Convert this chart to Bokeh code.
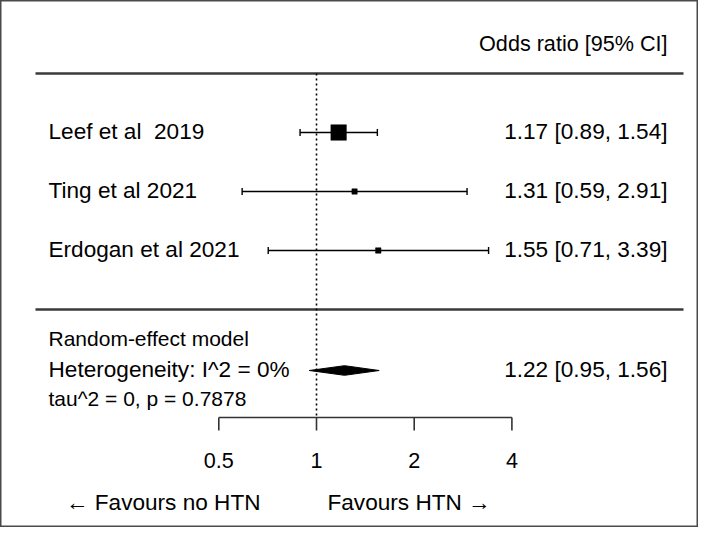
import math
from bokeh.plotting import figure
from bokeh.models import Range1d, LinearScale, ColumnDataSource
from bokeh.core.properties import value
from bokeh.embed import file_html
from bokeh.resources import INLINE

# ---------------- data ----------------
studies = ["Leef et al\u00a0 2019", "Ting et al 2021", "Erdogan et al 2021"]
odds_ratio = [1.17, 1.31, 1.55]
ci_lower = [0.89, 0.59, 0.71]
ci_upper = [1.54, 2.91, 3.39]
weights = [80.6, 9.5, 9.9]          # random-effect weights (%)
ci_text = ["1.17 [0.89, 1.54]", "1.31 [0.59, 2.91]", "1.55 [0.71, 3.39]"]

pooled_or = 1.22
pooled_lower = 0.95
pooled_upper = 1.56
pooled_text = "1.22 [0.95, 1.56]"
model_lines = ["Random-effect model", "Heterogeneity: I^2 = 0%", "tau^2 = 0, p = 0.7878"]

axis_ticks = [0.5, 1, 2, 4]
tick_labels = ["0.5", "1", "2", "4"]
header = "Odds ratio [95% CI]"
label_left = "\u2190 Favours no HTN"
label_right = "Favours HTN \u2192"

# ---------------- layout ----------------
W, H = 698, 527
REF_PX = 316                 # x of OR = 1
PX_PER_LOG2 = 97.7           # pixels per doubling
row_y = [132, 191, 250]      # row centres
TY = -8.3                    # text baseline correction
base_off = 7.5 + TY
sum_y = 370
top_rule, bot_rule = 73, 309
axis_y = 417
FONT = value("Liberation Sans")
BIG, MID, SMALL = "22.6px", "21.6px", "21px"

def or_at(px):
    return 2 ** ((px - REF_PX) / PX_PER_LOG2)

p = figure(width=W, height=H, x_axis_type="log",
           x_range=Range1d(or_at(0), or_at(W)),
           y_range=Range1d(H, 0),
           x_axis_location=None, y_axis_location=None,
           output_backend="svg", toolbar_location=None, min_border=0)
p.grid.visible = False
p.outline_line_color = "#4a4a4a"
p.outline_line_width = 2
p.extra_x_ranges = {"px": Range1d(0, W)}
p.extra_x_scales = {"px": LinearScale()}

def txt(x, y, t, align, size, rng="px"):
    kw = dict(x_range_name=rng) if rng else {}
    p.text(x=x, y=y, text=t, text_align=align, text_baseline="alphabetic",
           text_font=FONT, text_font_size=size, text_color="black", **kw)

# horizontal rules
p.segment(x0=[35, 35], x1=[683, 683], y0=[top_rule, bot_rule], y1=[top_rule, bot_rule],
          x_range_name="px", line_color="#3a3a3a", line_width=2.5)

# reference line at OR = 1
p.segment(x0=[1], x1=[1], y0=[top_rule], y1=[axis_y], line_color="black",
          line_width=1.6, line_dash="2 3")

# confidence intervals
src = ColumnDataSource(dict(
    y=row_y, orr=odds_ratio, lo=ci_lower, hi=ci_upper,
    ytop=[y - 3.5 for y in row_y], ybot=[y + 3.5 for y in row_y],
    size=[15.5 * math.sqrt(w / max(weights)) for w in weights],
))
p.segment(x0="lo", x1="hi", y0="y", y1="y", source=src, line_color="black", line_width=1.4)
p.segment(x0="lo", x1="lo", y0="ytop", y1="ybot", source=src, line_color="black", line_width=1.4)
p.segment(x0="hi", x1="hi", y0="ytop", y1="ybot", source=src, line_color="black", line_width=1.4)
p.scatter(x="orr", y="y", size="size", marker="square", source=src,
          fill_color="black", line_color="black", line_width=0.5)

# pooled diamond
p.patch(x=[pooled_lower, pooled_or, pooled_upper, pooled_or],
        y=[sum_y, sum_y - 4.8, sum_y, sum_y + 4.8],
        fill_color="black", line_color="black", line_width=1)

# x axis drawn with the data scale
p.segment(x0=[axis_ticks[0]], x1=[axis_ticks[-1]], y0=[axis_y], y1=[axis_y],
          line_color="#333333", line_width=1.6)
p.segment(x0=axis_ticks, x1=axis_ticks, y0=[axis_y] * 4, y1=[axis_y + 13] * 4,
          line_color="#333333", line_width=1.6)
txt(axis_ticks, [468.5 + TY] * 4, tick_labels, "center", MID, rng=None)

# header
txt([667], [51.7 + TY], [header], "right", MID)

# study labels and estimates
txt([48] * 3, [y + base_off for y in row_y], studies, "left", BIG)
txt([667] * 3, [y + base_off for y in row_y], ci_text, "right", BIG)

# model text
txt([48], [346.7 + TY], [model_lines[0]], "left", SMALL)
txt([48], [377.3 + TY], [model_lines[1]], "left", BIG)
txt([48], [406.7 + TY], [model_lines[2]], "left", SMALL)
txt([667], [377.3 + TY], [pooled_text], "right", BIG)

# favours labels
txt([260], [510 + TY], [label_left], "right", BIG)
txt([327], [510 + TY], [label_right], "left", BIG)

open("out.html", "w").write(file_html(p, INLINE))
